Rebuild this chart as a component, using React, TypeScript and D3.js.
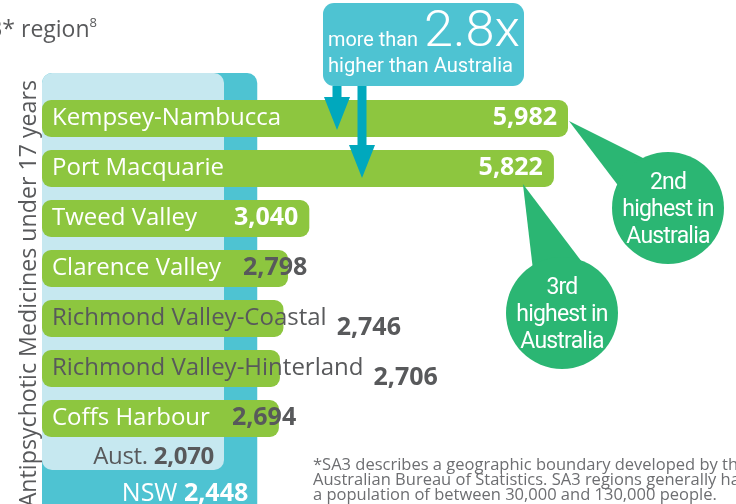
import React, { useEffect, useRef } from "react";
import * as d3 from "d3";

const regions = [
  "Kempsey-Nambucca",
  "Port Macquarie",
  "Tweed Valley",
  "Clarence Valley",
  "Richmond Valley-Coastal",
  "Richmond Valley-Hinterland",
  "Coffs Harbour",
];
const rates = [5982, 5822, 3040, 2798, 2746, 2706, 2694];
const australiaRate = 2070;
const nswRate = 2448;
const australiaLabel = "Aust.";
const nswLabel = "NSW";
const ratioPrefix = "more than";
const ratioValue = "2.8x";
const ratioSuffix = "higher than Australia";
const calloutRanks = ["2nd", "3rd"];
const calloutLines = ["highest in", "Australia"];
const titleText = "Antipsychotic medicines dispensing rate by SA3* region";
const titleSup = "8";
const yAxisLabel = "Antipsychotic Medicines under 17 years";
const footnoteLines = [
  "*SA3 describes a geographic boundary developed by the",
  "Australian Bureau of Statistics. SA3 regions generally have",
  "a population of between 30,000 and 130,000 people.",
];

const GREEN = "#8dc63f";
const LIGHT = "#c6e8f0";
const TEAL = "#4ec3d2";
const DARKTEAL = "#00a8bd";
const CIRCLE = "#2bb673";
const GREY = "#58595b";
const FONT = "'Open Sans', 'Noto Sans', sans-serif";
const COND = "Roboto, 'Noto Sans', sans-serif";

export default function App() {
  const ref = useRef<SVGSVGElement>(null);

  useEffect(() => {
    const svg = d3.select(ref.current as SVGSVGElement);
    svg.selectAll("*").remove();

    const x = d3
      .scaleLinear()
      .domain([0, 6000])
      .range([42, 42 + (6000 * 526) / 5982]);
    const y = d3
      .scaleBand<string>()
      .domain(regions)
      .range([93.5, 443.5])
      .paddingInner(0.26)
      .paddingOuter(0.13);
    const fmt = d3.format(",");
    const bh = y.bandwidth();

    // title (cropped)
    const title = svg
      .append("text")
      .attr("x", 97)
      .attr("y", 37)
      .attr("text-anchor", "end")
      .attr("font-family", FONT)
      .attr("font-size", 23)
      .attr("fill", GREY);
    title.append("tspan").text(titleText);
    title
      .append("tspan")
      .attr("font-size", 13)
      .attr("dy", -10)
      .text(titleSup);

    // NSW and Australia backgrounds
    svg
      .append("rect")
      .attr("x", x(0))
      .attr("y", 73)
      .attr("width", x(nswRate) - x(0))
      .attr("height", 460)
      .attr("rx", 10)
      .attr("fill", TEAL);
    svg
      .append("rect")
      .attr("x", x(0))
      .attr("y", 73)
      .attr("width", x(australiaRate) - x(0))
      .attr("height", 397)
      .attr("rx", 10)
      .attr("fill", LIGHT);

    // Aust label
    const aust = svg
      .append("text")
      .attr("x", x(australiaRate) - 10)
      .attr("y", 464)
      .attr("text-anchor", "end")
      .attr("font-family", FONT)
      .attr("font-size", 24)
      .attr("fill", GREY)
      .attr("letter-spacing", -0.3);
    aust.append("tspan").text(australiaLabel + " ");
    aust.append("tspan").attr("font-weight", 700).text(fmt(australiaRate));

    const nsw = svg
      .append("text")
      .attr("x", x(nswRate) - 9)
      .attr("y", 501)
      .attr("text-anchor", "end")
      .attr("font-family", FONT)
      .attr("font-size", 25)
      .attr("fill", "#fff");
    nsw.append("tspan").text(nswLabel + "  ");
    nsw.append("tspan").attr("font-weight", 700).text(fmt(nswRate));

    // y axis label
    svg
      .append("text")
      .attr("transform", `translate(36,80) rotate(-90)`)
      .attr("text-anchor", "end")
      .attr("font-family", FONT)
      .attr("font-size", 23.2)
      .attr("fill", GREY)
      .text(yAxisLabel);

    // bars
    const g = svg.append("g");
    regions.forEach((r, i) => {
      const v = rates[i];
      const y0 = y(r) as number;
      const end = x(v);
      g.append("rect")
        .attr("x", x(0))
        .attr("y", y0)
        .attr("width", end - x(0))
        .attr("height", bh)
        .attr("rx", 9)
        .attr("fill", GREEN);
    });

    regions.forEach((r, i) => {
      const v = rates[i];
      const y0 = y(r) as number;
      const end = x(v);
      const base = y0 + 25;
      const name = g
        .append("text")
        .attr("x", x(0) + 10)
        .attr("y", base)
        .attr("font-family", FONT)
        .attr("font-size", 24)
        .text(r);
      const nameLen = (name.node() as SVGTextElement).getComputedTextLength();
      const nameEnd = x(0) + 10 + nameLen;
      const overflow = nameEnd > end - 4;
      name.attr("fill", overflow ? GREY : "#fff");

      const val = g
        .append("text")
        .attr("font-family", FONT)
        .attr("font-size", 25)
        .attr("font-weight", 700)
        .text(fmt(v));
      const valLen = (val.node() as SVGTextElement).getComputedTextLength();
      if (!overflow && end - 11 - valLen - nameEnd >= 20) {
        val
          .attr("x", end - 11)
          .attr("y", base)
          .attr("text-anchor", "end")
          .attr("fill", "#fff");
      } else if (!overflow) {
        val.attr("x", nameEnd + 22).attr("y", base).attr("fill", GREY);
      } else {
        val.attr("x", nameEnd + 10).attr("y", base + 10).attr("fill", GREY);
      }
    });

    // ratio annotation box
    svg
      .append("rect")
      .attr("x", 323)
      .attr("y", 3)
      .attr("width", 201)
      .attr("height", 83)
      .attr("rx", 11)
      .attr("fill", TEAL);
    svg
      .append("text")
      .attr("x", 328)
      .attr("y", 46)
      .attr("font-family", COND)
      .attr("font-size", 21)
      .attr("fill", "#fff")
      .attr("textLength", 90)
      .attr("lengthAdjust", "spacingAndGlyphs")
      .text(ratioPrefix);
    svg
      .append("text")
      .attr("x", 424)
      .attr("y", 46)
      .attr("font-family", COND)
      .attr("font-weight", 300)
      .attr("font-size", 50)
      .attr("fill", "#fff")
      .attr("textLength", 96)
      .attr("lengthAdjust", "spacingAndGlyphs")
      .text(ratioValue);
    svg
      .append("text")
      .attr("x", 328)
      .attr("y", 72)
      .attr("font-family", COND)
      .attr("font-size", 21)
      .attr("fill", "#fff")
      .attr("textLength", 185)
      .attr("lengthAdjust", "spacingAndGlyphs")
      .text(ratioSuffix);

    // arrows into the two top bars
    const arrows = [
      { cx: 337, tip: (y(regions[0]) as number) + 30 },
      { cx: 362, tip: (y(regions[1]) as number) + 28 },
    ];
    arrows.forEach((a) => {
      svg
        .append("rect")
        .attr("x", a.cx - 4.5)
        .attr("y", 86)
        .attr("width", 9)
        .attr("height", a.tip - 33 - 86 + 2)
        .attr("fill", DARKTEAL);
      svg
        .append("path")
        .attr(
          "d",
          `M${a.cx - 13},${a.tip - 33} L${a.cx + 13},${a.tip - 33} L${a.cx},${a.tip} Z`
        )
        .attr("fill", DARKTEAL);
    });

    // callout bubbles
    const bubbles = [
      {
        cx: 668,
        cy: 208,
        tipX: x(rates[0]) + 1,
        tipY: (y(regions[0]) as number) + 21,
        b1: [647, 160],
        b2: [620, 188],
      },
      {
        cx: 562,
        cy: 313,
        tipX: x(rates[1]) - 31,
        tipY: (y(regions[1]) as number) + 34,
        b1: [533, 270],
        b2: [582, 262],
      },
    ];
    bubbles.forEach((b, i) => {
      svg
        .append("path")
        .attr(
          "d",
          `M${b.tipX},${b.tipY} L${b.b1[0]},${b.b1[1]} L${b.b2[0]},${b.b2[1]} Z`
        )
        .attr("fill", CIRCLE);
      svg
        .append("circle")
        .attr("cx", b.cx)
        .attr("cy", b.cy)
        .attr("r", 56)
        .attr("fill", CIRCLE);
      const lines = [calloutRanks[i], ...calloutLines];
      lines.forEach((t, j) => {
        svg
          .append("text")
          .attr("x", b.cx)
          .attr("y", b.cy - 19 + j * 27)
          .attr("text-anchor", "middle")
          .attr("font-family", COND)
          .attr("font-size", 23)
          .attr("fill", "#fff")
          .attr("letter-spacing", -0.8)
          .text(t);
      });
    });

    // footnote
    footnoteLines.forEach((t, i) => {
      svg
        .append("text")
        .attr("x", 313)
        .attr("y", 469.5 + i * 15.3)
        .attr("font-family", FONT)
        .attr("font-size", 16.5)
        .attr("fill", "#6d6e71")
        .text(t);
    });
  }, []);

  return (
    <div style={{ position: "fixed", left: 0, top: 0 }}>
      <svg ref={ref} width={736} height={504} style={{ display: "block" }} />
    </div>
  );
}
